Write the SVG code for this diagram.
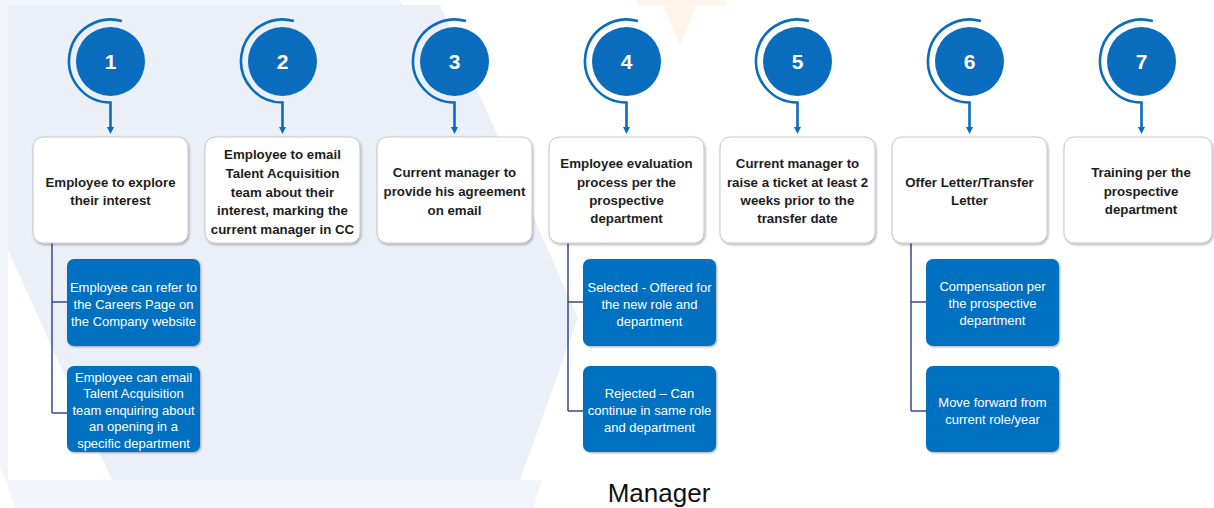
<svg xmlns="http://www.w3.org/2000/svg" width="1214" height="508" viewBox="0 0 1214 508">
<defs>
<style>
.t{font-family:"Liberation Sans",Arial,sans-serif;font-weight:bold;font-size:13.3px;fill:#1E1E1E;text-anchor:middle}
.s{font-family:"Liberation Sans",Arial,sans-serif;font-size:13px;fill:#FFFFFF;text-anchor:middle}
.n{font-family:"Liberation Sans",Arial,sans-serif;font-weight:bold;font-size:21px;fill:#FFFFFF;text-anchor:middle}
.step{fill:#FFFFFF;stroke:#C8C8C8;stroke-width:1;filter:url(#sh)}
.sub{fill:#0070C0;filter:url(#sh2)}
.disc{fill:#0A6CBD}
.ring{fill:none;stroke:#0A6CBD;stroke-width:2.6;marker-end:url(#ah)}
.conn{fill:none;stroke:#3A4A86;stroke-width:1.5}
</style>
<filter id="sh" x="-10%" y="-10%" width="125%" height="130%">
<feDropShadow dx="1" dy="1.5" stdDeviation="1.3" flood-color="#000" flood-opacity="0.3"/>
</filter>
<filter id="sh2" x="-10%" y="-10%" width="125%" height="130%">
<feDropShadow dx="1" dy="1" stdDeviation="1.2" flood-color="#000" flood-opacity="0.35"/>
</filter>
<marker id="ah" markerUnits="userSpaceOnUse" markerWidth="8" markerHeight="8" refX="3" refY="3.5" orient="auto">
<path d="M0,0 L7,3.5 L0,7 Z" fill="#0A6CBD"/>
</marker>
</defs>

<g id="background">
<rect x="0" y="0" width="1214" height="508" fill="#FFFFFF"/>
<polygon points="0,0 400,0 600,300 533,508 15,508 0,466" fill="#F2F5FA"/>
<rect x="8" y="5" width="1206" height="475" fill="#FFFFFF"/>
<polygon points="8,5 440,5 578,318 520,480 112,480 8,250" fill="#EBF0F8"/>
<polygon points="637,0 727,0 727,5 697,5 680,45 663,5 637,5" fill="#FFF4EA"/>
</g>

<g id="connectors">
<path class="ring" d="M121.9 21.1 A41.5 41.5 0 1 0 110.5 102.5 V130"/>
<path class="ring" d="M293.9 21.1 A41.5 41.5 0 1 0 282.5 102.5 V130"/>
<path class="ring" d="M465.9 21.1 A41.5 41.5 0 1 0 454.5 102.5 V130"/>
<path class="ring" d="M637.9 21.1 A41.5 41.5 0 1 0 626.5 102.5 V130"/>
<path class="ring" d="M808.9 21.1 A41.5 41.5 0 1 0 797.5 102.5 V130"/>
<path class="ring" d="M980.9 21.1 A41.5 41.5 0 1 0 969.5 102.5 V130"/>
<path class="ring" d="M1152.9 21.1 A41.5 41.5 0 1 0 1141.5 102.5 V130"/>
<path class="conn" d="M52 243 V413 M52 302 H67 M52 413 H67"/>
<path class="conn" d="M568 243 V411 M568 302 H583 M568 411 H583"/>
<path class="conn" d="M911 243 V411 M911 302 H926 M911 411 H926"/>
</g>

<g id="badge1"><circle class="disc" cx="110.5" cy="61.5" r="34.5"/><text class="n" x="110.5" y="69">1</text></g>
<g id="badge2"><circle class="disc" cx="282.5" cy="61.5" r="34.5"/><text class="n" x="282.5" y="69">2</text></g>
<g id="badge3"><circle class="disc" cx="454.5" cy="61.5" r="34.5"/><text class="n" x="454.5" y="69">3</text></g>
<g id="badge4"><circle class="disc" cx="626.5" cy="61.5" r="34.5"/><text class="n" x="626.5" y="69">4</text></g>
<g id="badge5"><circle class="disc" cx="797.5" cy="61.5" r="34.5"/><text class="n" x="797.5" y="69">5</text></g>
<g id="badge6"><circle class="disc" cx="969.5" cy="61.5" r="34.5"/><text class="n" x="969.5" y="69">6</text></g>
<g id="badge7"><circle class="disc" cx="1141.5" cy="61.5" r="34.5"/><text class="n" x="1141.5" y="69">7</text></g>

<g id="step1">
<rect class="step" x="33" y="137" width="155" height="106" rx="10"/>
<text class="t" x="110.5" y="187">Employee to explore</text>
<text class="t" x="110.5" y="205">their interest</text>
</g>
<g id="step2">
<rect class="step" x="205" y="137" width="155" height="106" rx="10"/>
<text class="t" x="282.5" y="158.5">Employee to email</text>
<text class="t" x="282.5" y="177.5">Talent Acquisition</text>
<text class="t" x="282.5" y="196.5">team about their</text>
<text class="t" x="282.5" y="214.5">interest, marking the</text>
<text class="t" x="282.5" y="233.5">current manager in CC</text>
</g>
<g id="step3">
<rect class="step" x="377" y="137" width="155" height="106" rx="10"/>
<text class="t" x="454.5" y="176.5">Current manager to</text>
<text class="t" x="454.5" y="195.5">provide his agreement</text>
<text class="t" x="454.5" y="214.5">on email</text>
</g>
<g id="step4">
<rect class="step" x="549" y="137" width="155" height="106" rx="10"/>
<text class="t" x="626.5" y="167.5">Employee evaluation</text>
<text class="t" x="626.5" y="186.5">process per the</text>
<text class="t" x="626.5" y="204.5">prospective</text>
<text class="t" x="626.5" y="222.5">department</text>
</g>
<g id="step5">
<rect class="step" x="720" y="137" width="155" height="106" rx="10"/>
<text class="t" x="797.5" y="167.5">Current manager to</text>
<text class="t" x="797.5" y="186.5">raise a ticket at least 2</text>
<text class="t" x="797.5" y="204.5">weeks prior to the</text>
<text class="t" x="797.5" y="222.5">transfer date</text>
</g>
<g id="step6">
<rect class="step" x="892" y="137" width="155" height="106" rx="10"/>
<text class="t" x="969.5" y="186.5">Offer Letter/Transfer</text>
<text class="t" x="969.5" y="204.5">Letter</text>
</g>
<g id="step7">
<rect class="step" x="1064" y="137" width="148" height="106" rx="10"/>
<text class="t" x="1141" y="176.5">Training per the</text>
<text class="t" x="1141" y="195.5">prospective</text>
<text class="t" x="1141" y="213.5">department</text>
</g>

<g id="sub1a">
<rect class="sub" x="67" y="259" width="133" height="87" rx="7"/>
<text class="s" x="133.5" y="291.5">Employee can refer to</text>
<text class="s" x="133.5" y="308.5">the Careers Page on</text>
<text class="s" x="133.5" y="325.5">the Company website</text>
</g>
<g id="sub1b">
<rect class="sub" x="67" y="366" width="133" height="86" rx="7"/>
<text class="s" x="133.5" y="381.5">Employee can email</text>
<text class="s" x="133.5" y="398">Talent Acquisition</text>
<text class="s" x="133.5" y="414.5">team enquiring about</text>
<text class="s" x="133.5" y="431">an opening in a</text>
<text class="s" x="133.5" y="447.5">specific department</text>
</g>
<g id="sub4a">
<rect class="sub" x="583" y="259" width="133" height="87" rx="7"/>
<text class="s" x="649.5" y="291.5">Selected - Offered for</text>
<text class="s" x="649.5" y="308.5">the new role and</text>
<text class="s" x="649.5" y="325.5">department</text>
</g>
<g id="sub4b">
<rect class="sub" x="583" y="366" width="133" height="86" rx="7"/>
<text class="s" x="649.5" y="397.5">Rejected – Can</text>
<text class="s" x="649.5" y="414.5">continue in same role</text>
<text class="s" x="649.5" y="431.5">and department</text>
</g>
<g id="sub6a">
<rect class="sub" x="926" y="259" width="133" height="87" rx="7"/>
<text class="s" x="992.5" y="291">Compensation per</text>
<text class="s" x="992.5" y="308">the prospective</text>
<text class="s" x="992.5" y="325">department</text>
</g>
<g id="sub6b">
<rect class="sub" x="926" y="366" width="133" height="86" rx="7"/>
<text class="s" x="992.5" y="406.5">Move forward from</text>
<text class="s" x="992.5" y="423.5">current role/year</text>
</g>

<g id="caption">
<text x="659" y="502" font-family="Liberation Sans, Arial, sans-serif" font-size="26" fill="#111111" text-anchor="middle">Manager</text>
</g>
</svg>
